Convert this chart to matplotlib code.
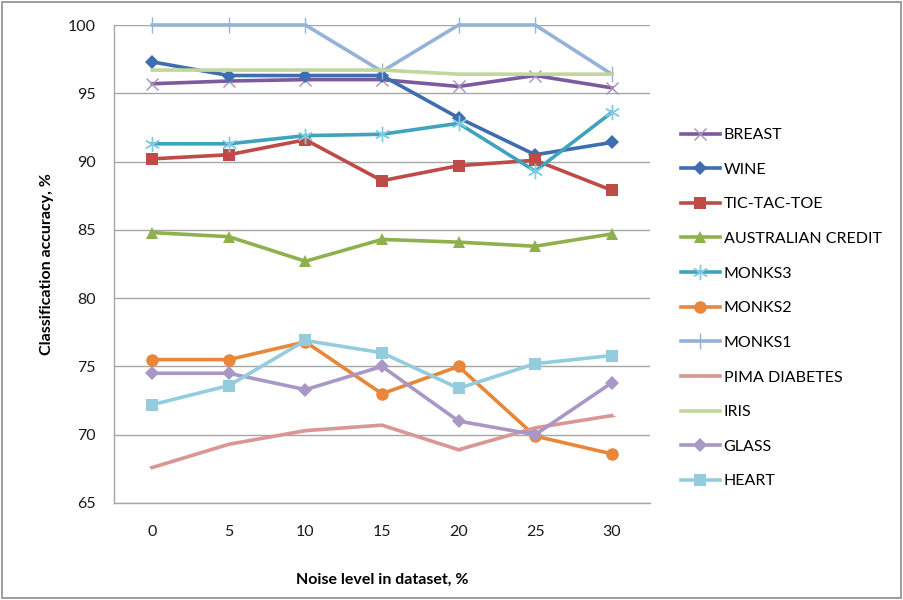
import matplotlib
matplotlib.use("Agg")
import matplotlib.pyplot as plt
from matplotlib.patches import Rectangle

noise_levels = ["0", "5", "10", "15", "20", "25", "30"]

breast = [95.7, 95.9, 96.0, 96.0, 95.5, 96.3, 95.4]
wine = [97.3, 96.3, 96.3, 96.3, 93.2, 90.5, 91.4]
tic_tac_toe = [90.2, 90.5, 91.6, 88.6, 89.7, 90.1, 87.9]
australian_credit = [84.8, 84.5, 82.7, 84.3, 84.1, 83.8, 84.7]
monks3 = [91.3, 91.3, 91.9, 92.0, 92.8, 89.3, 93.6]
monks2 = [75.5, 75.5, 76.8, 73.0, 75.0, 69.9, 68.6]
monks1 = [100.0, 100.0, 100.0, 96.6, 100.0, 100.0, 96.4]
pima_diabetes = [67.6, 69.3, 70.3, 70.7, 68.9, 70.5, 71.4]
iris = [96.7, 96.7, 96.7, 96.7, 96.4, 96.4, 96.4]
glass = [74.5, 74.5, 73.3, 75.0, 71.0, 70.0, 73.8]
heart = [72.2, 73.6, 76.9, 76.0, 73.4, 75.2, 75.8]

series = [
    ("BREAST", breast, "#7B5B9E", "x", 9, 1.0, "#A590C0"),
    ("WINE", wine, "#3E6DB0", "D", 7, 0, None),
    ("TIC-TAC-TOE", tic_tac_toe, "#BE4B48", "s", 9, 0, None),
    ("AUSTRALIAN CREDIT", australian_credit, "#8EB14E", "^", 8, 0, None),
    ("MONKS3", monks3, "#3FA3BD", (6, 2, 0), 11, 1.0, "#7FCCE0"),
    ("MONKS2", monks2, "#E8863A", "o", 9, 0, None),
    ("MONKS1", monks1, "#95B3D7", "|", 11, 1.0, "#95B3D7"),
    ("PIMA DIABETES", pima_diabetes, "#D99694", "_", 4, 1.0, "#D99694"),
    ("IRIS", iris, "#C3D69B", "", 0, 0, None),
    ("GLASS", glass, "#A997C6", "D", 7, 0, None),
    ("HEART", heart, "#93CDDD", "s", 9, 0, None),
]

font = "Lato"
fig = plt.figure(figsize=(9.04, 6.0), dpi=100)
fig.patches.append(Rectangle((0.002, 0.004), 0.995, 0.992, transform=fig.transFigure,
                             fill=False, edgecolor="#8C8C8C", linewidth=1.2))
ax = fig.add_axes([114 / 904, 97 / 600, 536 / 904, 478 / 600])

x = list(range(len(noise_levels)))
for name, vals, color, marker, ms, mew, mec in series:
    kw = dict(color=color, linewidth=2.6, label=name, solid_joinstyle="round",
              clip_on=False)
    if marker:
        kw.update(marker=marker, markersize=ms)
        if mec is not None:
            kw.update(markeredgecolor=mec, markeredgewidth=mew)
        else:
            kw.update(markeredgewidth=0, markerfacecolor=color)
    ax.plot(x, vals, **kw)

ax.set_xlim(-0.5, len(noise_levels) - 0.5)
ax.set_ylim(65, 100)
ax.set_yticks(range(65, 101, 5))
ax.set_xticks(x)
ax.set_xticklabels(noise_levels)
ax.yaxis.grid(True, color="#A6A6A6", linewidth=1.0)
ax.set_axisbelow(True)
ax.tick_params(axis="both", length=0, labelsize=11.5, colors="#1A1A1A")
ax.tick_params(axis="x", pad=16)
ax.tick_params(axis="y", pad=13)
for lbl in ax.get_xticklabels() + ax.get_yticklabels():
    lbl.set_fontfamily(font)
for side in ("top", "right"):
    ax.spines[side].set_visible(False)
for side in ("left", "bottom"):
    ax.spines[side].set_color("#A6A6A6")
    ax.spines[side].set_linewidth(1.0)

ax.set_ylabel("Classification accuracy, %", fontfamily=font, fontweight="bold",
              fontsize=11.5, labelpad=10)
ax.set_xlabel("Noise level in dataset, %", fontfamily=font, fontweight="bold",
              fontsize=11.5, labelpad=24)

leg = ax.legend(loc="upper left", bbox_to_anchor=(1.045, 0.798), frameon=False,
                prop={"family": font, "size": 11.5}, handlelength=2.5,
                handletextpad=0.2, labelspacing=1.28, borderaxespad=0)

fig.savefig("out.png", dpi=100, facecolor="white")
